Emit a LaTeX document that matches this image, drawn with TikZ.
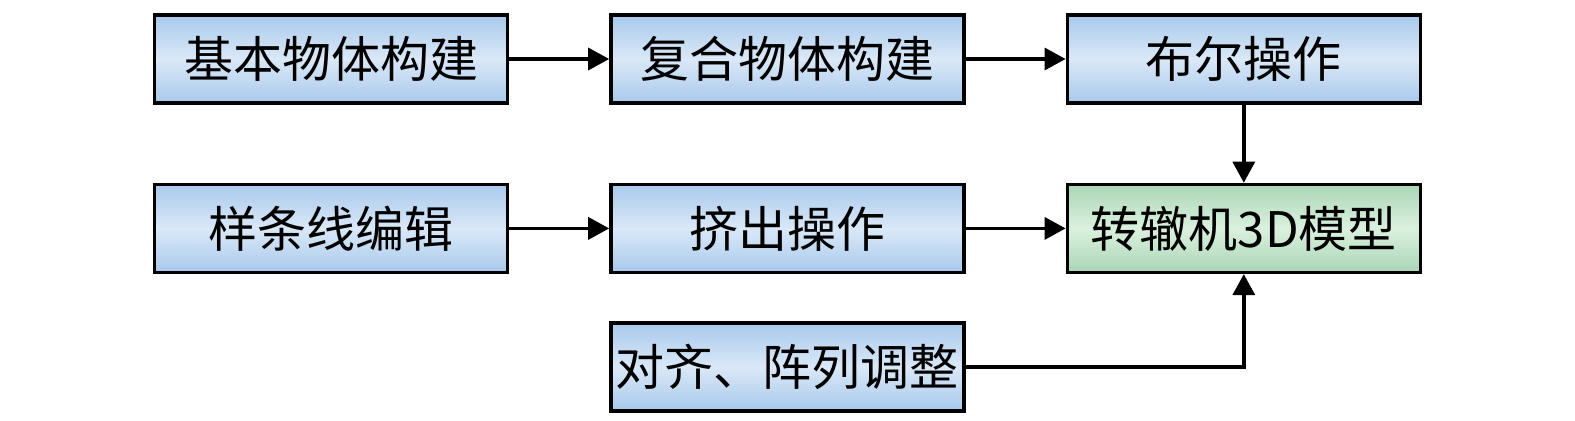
\documentclass[tikz,border=0pt]{standalone}
\usepackage{fontspec}
\newfontfamily\cjk{Noto Sans CJK SC}
\usetikzlibrary{arrows.meta, positioning}

\definecolor{blueedge}{RGB}{168,201,236}
\definecolor{bluemid}{RGB}{218,232,247}
\definecolor{greenedge}{RGB}{170,214,182}
\definecolor{greenmid}{RGB}{218,240,222}

\begin{document}
\begin{tikzpicture}[>={Triangle[length=10.5pt,width=11pt]}, line width=1.7pt,
    box/.style={draw, rectangle, minimum width=176.5pt, minimum height=44pt, inner sep=0pt,
                top color=blueedge, bottom color=blueedge, middle color=bluemid,
                font=\cjk\fontsize{24.5}{29}\selectfont},
    result/.style={box, top color=greenedge, bottom color=greenedge, middle color=greenmid},
    node distance=39pt and 50pt]
     \useasboundingbox (0,0) rectangle (787.5pt,-210pt);
     \node[box]    (basic)    at (165.5pt,-29.5pt)          {基本物体构建};
     \node[box]    (compound) [right=of basic]              {复合物体构建};
     \node[box]    (boolean)  [right=of compound]           {布尔操作};
     \node[box]    (spline)   [below=of basic]              {样条线编辑};
     \node[box]    (extrude)  [below=of compound]           {挤出操作};
     \node[result] (model)    [below=of boolean]            {转辙机3D模型};
     \node[box]    (align)    [below=23.5pt of extrude]     {对齐、阵列调整};

     \path[->] (basic)    edge (compound)
               (compound) edge (boolean)
               (boolean)  edge (model)
               (spline)   edge (extrude)
               (extrude)  edge (model);
     \draw[->] (align) -| (model);
\end{tikzpicture}
\end{document}
